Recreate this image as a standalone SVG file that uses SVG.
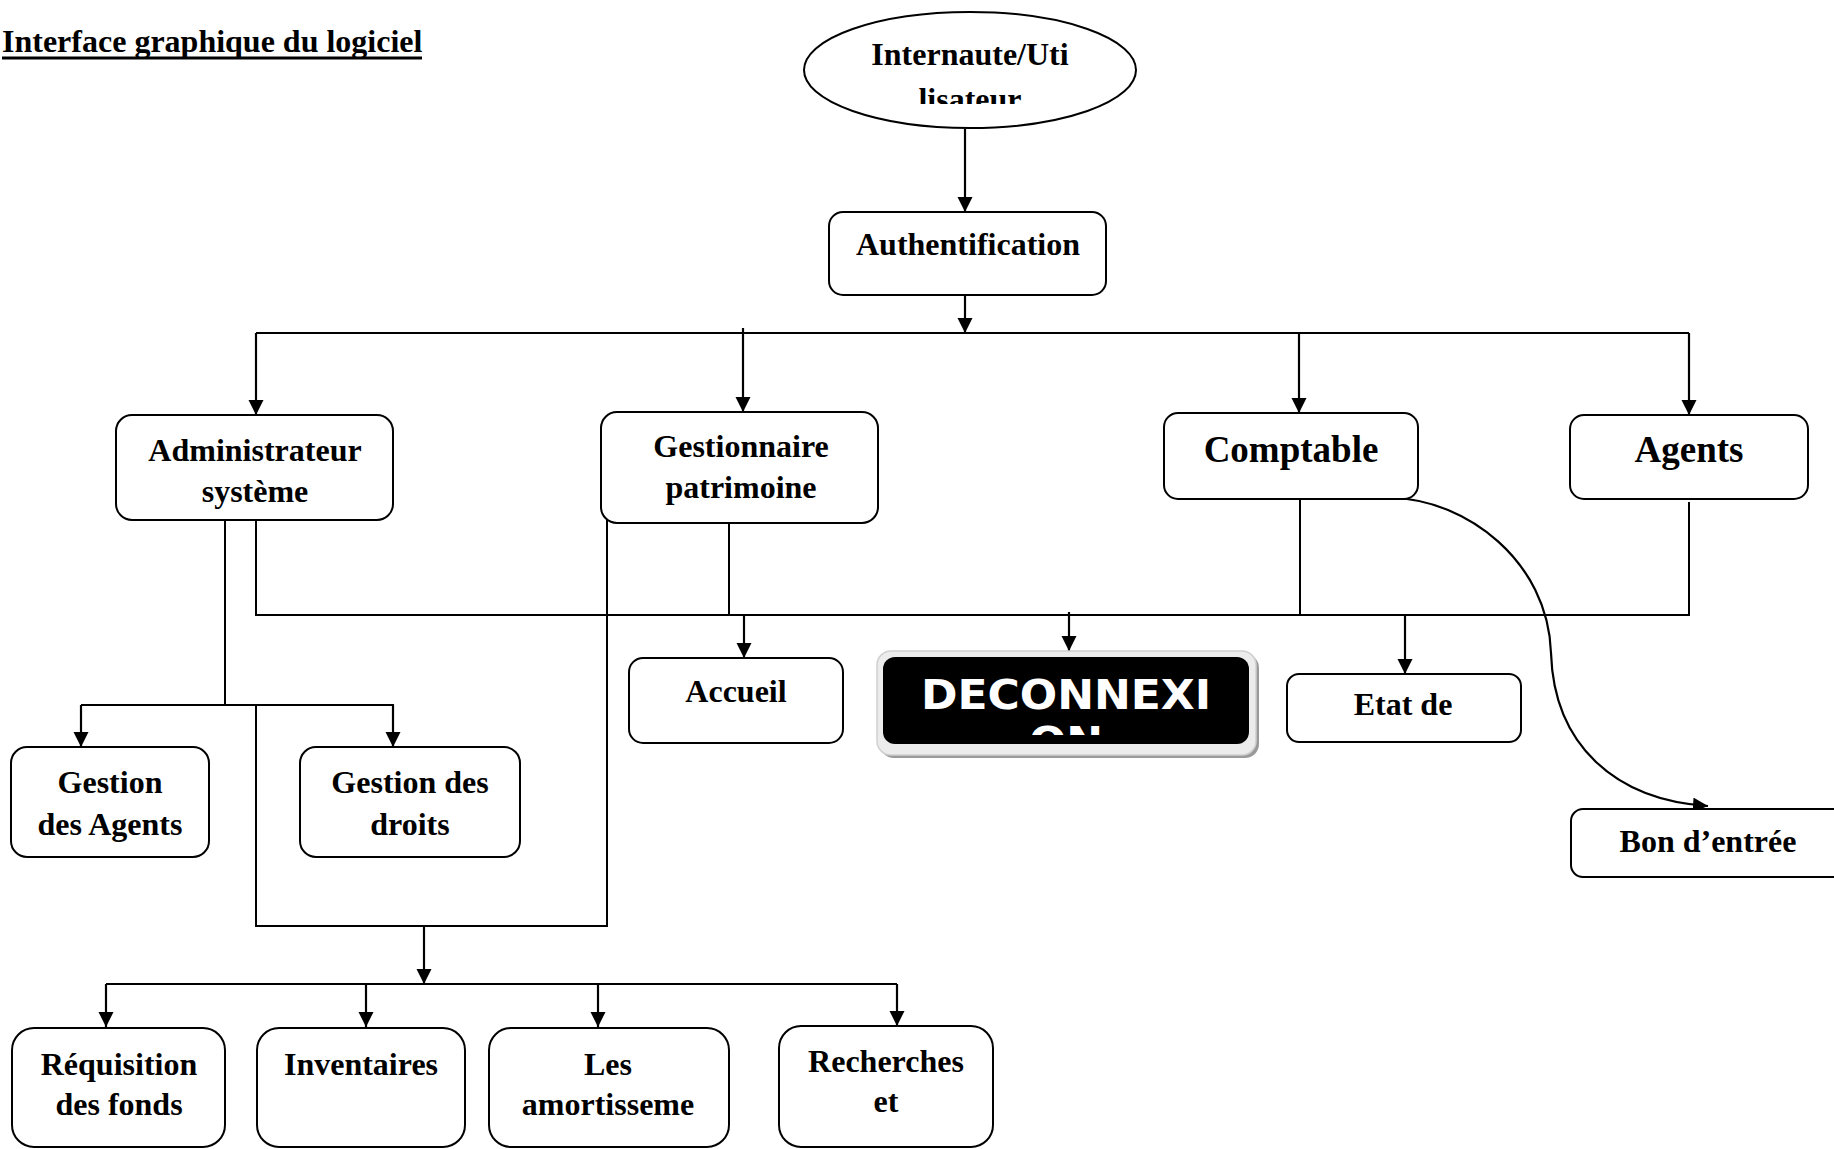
<svg xmlns="http://www.w3.org/2000/svg" width="1834" height="1149" viewBox="0 0 1834 1149">
  <style>
    .box { fill: #fff; stroke: #000; stroke-width: 2; }
    .lbl { font-family: "Liberation Serif", "Times New Roman", serif; font-weight: bold; font-size: 32px; fill: #000; text-anchor: middle; }
    .big { font-size: 37px; }
    .wire { fill: none; stroke: #000; stroke-width: 2; }
    .arr { fill: none; stroke: #000; stroke-width: 2.2; marker-end: url(#tip); }
    .logout { font-family: "DejaVu Sans", "Liberation Sans", sans-serif; font-weight: bold; font-size: 40px; fill: #fff; text-anchor: middle; }
  </style>
  <defs>
    <marker id="tip" markerUnits="userSpaceOnUse" markerWidth="16" markerHeight="16" refX="15" refY="7.5" orient="auto">
      <path d="M0,0 L15,7.5 L0,15 z" fill="#000"/>
    </marker>
    <clipPath id="userClip"><rect x="800" y="0" width="340" height="104"/></clipPath>
    <clipPath id="logoutClip"><rect x="880" y="655" width="372" height="80"/></clipPath>
  </defs>

  <rect width="1834" height="1149" fill="#fff"/>

  <!-- page heading -->
  <g id="heading">
    <text x="2" y="52" class="lbl" style="text-anchor:start">Interface graphique du logiciel</text>
    <rect x="2" y="56.5" width="420" height="3" fill="#000"/>
  </g>

  <!-- connectors -->
  <g id="connectors">
    <line class="arr" x1="965" y1="129" x2="965" y2="212"/>
    <line class="arr" x1="965" y1="295" x2="965" y2="333"/>
    <line class="wire" x1="256" y1="333" x2="1689" y2="333"/>
    <line class="arr" x1="256" y1="333" x2="256" y2="415"/>
    <line class="arr" x1="743" y1="328" x2="743" y2="412"/>
    <line class="arr" x1="1299" y1="333" x2="1299" y2="413"/>
    <line class="arr" x1="1689" y1="333" x2="1689" y2="415"/>

    <!-- shared bus towards Accueil / Deconnexion / Etat -->
    <polyline class="wire" points="256,520 256,615 1689,615 1689,502"/>
    <line class="wire" x1="1300" y1="499" x2="1300" y2="615"/>
    <line class="wire" x1="729" y1="523" x2="729" y2="615"/>
    <line class="arr" x1="744" y1="615" x2="744" y2="658"/>
    <line class="arr" x1="1069" y1="612" x2="1069" y2="651"/>
    <line class="arr" x1="1405" y1="615" x2="1405" y2="674"/>

    <!-- administrator branch -->
    <line class="wire" x1="225" y1="520" x2="225" y2="705"/>
    <line class="wire" x1="81" y1="705" x2="394" y2="705"/>
    <line class="arr" x1="81" y1="705" x2="81" y2="747"/>
    <line class="arr" x1="393" y1="705" x2="393" y2="747"/>

    <!-- merge towards the lower modules -->
    <polyline class="wire" points="256,705 256,926 607,926 607,520"/>
    <line class="arr" x1="424" y1="926" x2="424" y2="984"/>
    <line class="wire" x1="106" y1="984" x2="897" y2="984"/>
    <line class="arr" x1="106" y1="984" x2="106" y2="1027"/>
    <line class="arr" x1="366" y1="984" x2="366" y2="1027"/>
    <line class="arr" x1="598" y1="984" x2="598" y2="1027"/>
    <line class="arr" x1="897" y1="984" x2="897" y2="1026"/>

    <!-- curved link to Bon d'entrée -->
    <path class="arr" d="M1394,498 C1465,500 1548,560 1551,653 C1554,745 1615,800 1708,806"/>
  </g>

  <!-- nodes -->
  <g id="user">
    <ellipse cx="970" cy="70" rx="166" ry="58" class="box"/>
    <g clip-path="url(#userClip)">
      <text x="970" y="65" class="lbl">Internaute/Uti</text>
      <text x="970" y="110" class="lbl">lisateur</text>
    </g>
  </g>

  <g id="auth">
    <rect x="829" y="212" width="277" height="83" rx="14" class="box"/>
    <text x="968" y="255" class="lbl">Authentification</text>
  </g>

  <g id="admin">
    <rect x="116" y="415" width="277" height="105" rx="16" class="box"/>
    <text x="255" y="461" class="lbl">Administrateur</text>
    <text x="255" y="502" class="lbl">système</text>
  </g>

  <g id="gestionnaire">
    <rect x="601" y="412" width="277" height="111" rx="16" class="box"/>
    <text x="741" y="457" class="lbl">Gestionnaire</text>
    <text x="741" y="498" class="lbl">patrimoine</text>
  </g>

  <g id="comptable">
    <rect x="1164" y="413" width="254" height="86" rx="14" class="box"/>
    <text x="1291" y="462" class="lbl big">Comptable</text>
  </g>

  <g id="agents">
    <rect x="1570" y="415" width="238" height="84" rx="14" class="box"/>
    <text x="1689" y="462" class="lbl big">Agents</text>
  </g>

  <g id="accueil">
    <rect x="629" y="658" width="214" height="85" rx="14" class="box"/>
    <text x="736" y="702" class="lbl">Accueil</text>
  </g>

  <g id="deconnexion">
    <rect x="880" y="654" width="379" height="104" rx="14" fill="#9a9a9a"/>
    <rect x="877" y="651" width="379" height="104" rx="14" fill="#ececec" stroke="#d0d0d0" stroke-width="1.5"/>
    <rect x="883" y="657" width="366" height="87" rx="12" fill="#000"/>
    <g clip-path="url(#logoutClip)">
      <g transform="translate(1066,709) scale(1.1,1)">
        <text x="0" y="0" class="logout">DECONNEXI</text>
        <text x="0" y="47" class="logout">ON</text>
      </g>
    </g>
  </g>

  <g id="etat">
    <rect x="1287" y="674" width="234" height="68" rx="12" class="box"/>
    <text x="1403" y="715" class="lbl">Etat de</text>
  </g>

  <g id="bon-entree">
    <rect x="1571" y="809" width="276" height="68" rx="12" class="box"/>
    <text x="1708" y="852" class="lbl">Bon d’entrée</text>
  </g>

  <g id="gestion-agents">
    <rect x="11" y="747" width="198" height="110" rx="16" class="box"/>
    <text x="110" y="793" class="lbl">Gestion</text>
    <text x="110" y="835" class="lbl">des Agents</text>
  </g>

  <g id="gestion-droits">
    <rect x="300" y="747" width="220" height="110" rx="16" class="box"/>
    <text x="410" y="793" class="lbl">Gestion des</text>
    <text x="410" y="835" class="lbl">droits</text>
  </g>

  <g id="requisition">
    <rect x="12" y="1028" width="213" height="119" rx="22" class="box"/>
    <text x="119" y="1075" class="lbl">Réquisition</text>
    <text x="119" y="1115" class="lbl">des fonds</text>
  </g>

  <g id="inventaires">
    <rect x="257" y="1028" width="208" height="119" rx="22" class="box"/>
    <text x="361" y="1075" class="lbl">Inventaires</text>
  </g>

  <g id="amortissements">
    <rect x="489" y="1028" width="240" height="119" rx="22" class="box"/>
    <text x="608" y="1075" class="lbl">Les</text>
    <text x="608" y="1115" class="lbl">amortisseme</text>
  </g>

  <g id="recherches">
    <rect x="779" y="1026" width="214" height="121" rx="22" class="box"/>
    <text x="886" y="1072" class="lbl">Recherches</text>
    <text x="886" y="1112" class="lbl">et</text>
  </g>
</svg>
